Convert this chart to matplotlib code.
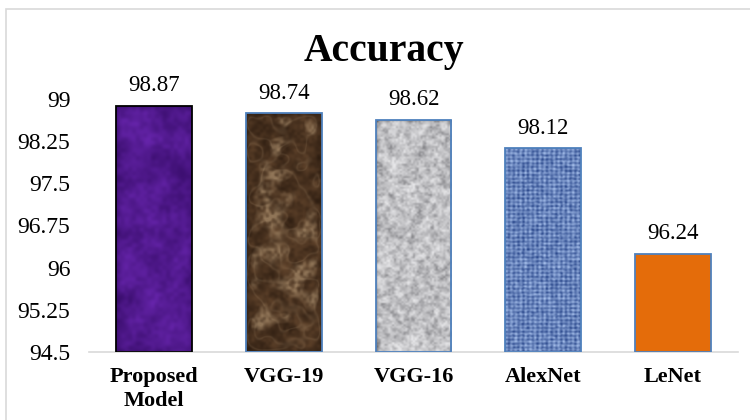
import numpy as np
import matplotlib
matplotlib.use("Agg")
import matplotlib.pyplot as plt
from matplotlib.patches import Rectangle

# model names and their accuracy (%)
models = ["Proposed\nModel", "VGG-19", "VGG-16", "AlexNet", "LeNet"]
accuracy = [98.87, 98.74, 98.62, 98.12, 96.24]
yticks = [94.5, 95.25, 96, 96.75, 97.5, 98.25, 99]
ytick_labels = ["94.5", "95.25", "96", "96.75", "97.5", "98.25", "99"]

SERIF = ["Liberation Serif", "DejaVu Serif"]
rng = np.random.default_rng(7)


# h, w: texture size in pixels, cell: size of the noise blobs
# returns a smooth noise field scaled to 0..1
def smooth_noise(h, w, cell):
    gh, gw = h // cell + 2, w // cell + 2
    grid = rng.random((gh, gw))
    big = np.kron(grid, np.ones((cell, cell)))[:h, :w]
    k = np.ones(cell) / cell
    for _ in range(2):
        big = np.apply_along_axis(lambda r: np.convolve(r, k, mode="same"), 1, big)
        big = np.apply_along_axis(lambda c: np.convolve(c, k, mode="same"), 0, big)
    big = (big - big.min()) / (big.max() - big.min())
    return big


def mix(a, b, t):
    a = np.array(a) / 255.0
    b = np.array(b) / 255.0
    t = np.clip(t, 0, 1)[..., None]
    return a * (1 - t) + b * t


def purple_tex(h, w):
    n = 0.6 * smooth_noise(h, w, 14) + 0.4 * smooth_noise(h, w, 4)
    return mix((55, 12, 105), (105, 38, 175), n)


def marble_tex(h, w):
    base = mix((40, 25, 14), (100, 70, 45), 0.6 * smooth_noise(h, w, 8) + 0.4 * smooth_noise(h, w, 3))
    n = smooth_noise(h, w, 12)
    light = np.clip((n - 0.58) / 0.35, 0, 1) * smooth_noise(h, w, 3)
    veins = 0.18 * np.exp(-((smooth_noise(h, w, 9) - 0.5) / 0.07) ** 2)
    t = np.clip(light + veins, 0, 0.75)[..., None]
    return base * (1 - t) + np.array([0.66, 0.55, 0.42]) * t


def granite_tex(h, w):
    n = 0.6 * smooth_noise(h, w, 4) + 0.4 * smooth_noise(h, w, 2)
    return mix((80, 80, 85), (240, 240, 242), n ** 0.55)


def woven_tex(h, w):
    yy, xx = np.mgrid[0:h, 0:w]
    grid = 0.5 + 0.25 * np.sin(xx * 2 * np.pi / 5.0) + 0.25 * np.sin(yy * 2 * np.pi / 5.0)
    n = 0.55 * grid + 0.45 * smooth_noise(h, w, 2)
    return mix((30, 60, 130), (175, 200, 242), n)


textures = [purple_tex, marble_tex, granite_tex, woven_tex, None]
edges = ["black", "#4F81BD", "#4F81BD", "#4F81BD", "#4F81BD"]
solid = "#E46C0A"

fig = plt.figure(figsize=(7.5, 4.2), dpi=100)
ax = fig.add_axes([0.1187, 0.162, 0.8653, 0.603])

x = np.arange(len(models))
bars = ax.bar(x, [a - 94.5 for a in accuracy], bottom=94.5, width=0.585,
              color=solid, edgecolor=edges, linewidth=1.3, zorder=3)

for bar, tex in zip(bars, textures):
    if tex is None:
        continue
    x0, y0 = bar.get_x(), bar.get_y()
    img = tex(260, 80)
    im = ax.imshow(img, extent=[x0, x0 + bar.get_width(), y0, y0 + bar.get_height()],
                   aspect="auto", interpolation="bilinear", zorder=2)
    im.set_clip_path(bar)
    bar.set_facecolor("none")

for xi, a in zip(x, accuracy):
    ax.annotate(f"{a:.2f}", (xi, a), xytext=(0, 7), textcoords="offset points",
                ha="center", va="bottom", fontsize=16.5, family=SERIF, annotation_clip=False)

ax.set_xlim(-0.5, len(models) - 0.5)
ax.set_ylim(94.5, 99)
ax.set_yticks(yticks)
ax.set_yticklabels(ytick_labels, family=SERIF, fontsize=17)
ax.set_xticks(x)
ax.set_xticklabels(models, family=SERIF, fontsize=16, fontweight="bold", linespacing=1.25)
ax.tick_params(axis="both", length=0)
ax.tick_params(axis="y", pad=13.5)
ax.tick_params(axis="x", pad=11)
for s in ["top", "right", "left"]:
    ax.spines[s].set_visible(False)
ax.spines["bottom"].set_color("#D9D9D9")
ax.spines["bottom"].set_linewidth(1.2)

fig.text(0.512, 0.878, "Accuracy", ha="center", va="center", fontsize=28.5,
         fontweight="bold", family=SERIF)

# thin frame around the chart area
fig.patches.append(Rectangle((0.008, -0.05), 1.2, 0.9786 + 0.05, transform=fig.transFigure,
                             fill=False, edgecolor="#D9D9D9", linewidth=1.2))

fig.savefig("out.png", dpi=100)
